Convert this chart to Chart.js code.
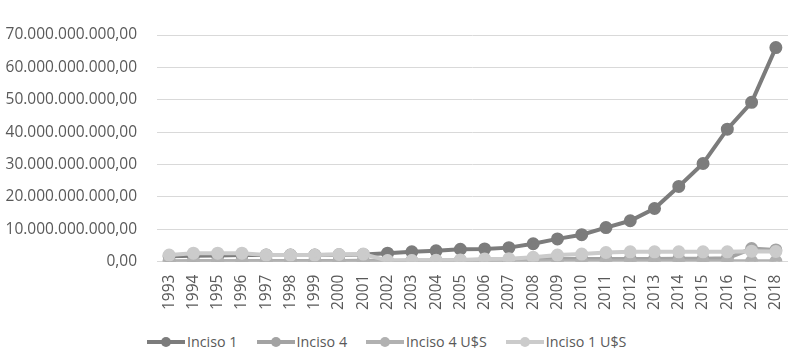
<!DOCTYPE html>
<html>
<head>
<meta charset="utf-8">
<script src="https://cdn.jsdelivr.net/npm/chart.js@4.4.1/dist/chart.umd.min.js"></script>
<style>
    body { margin: 0; background: #fff; font-family: 'Open Sans', sans-serif; }
    #wrap { position: relative; width: 802px; height: 315px; }
    #legend { position: absolute; top: 332px; left: 147px; display: flex; gap: 19px; font-size: 14.3px; color: #595959; }
    .item { display: flex; align-items: center; }
    .mark { position: relative; width: 38px; height: 4px; margin-right: 2px; }
    .mark i { position: absolute; left: 14px; top: -3px; width: 10px; height: 10px; border-radius: 50%; }
</style>
</head>
<body>
<div id="wrap"><canvas id="chart"></canvas></div>
<div id="legend"></div>
<script>
// Years on the category axis
const years = ['1993', '1994', '1995', '1996', '1997', '1998', '1999', '2000', '2001', '2002', '2003', '2004', '2005',
    '2006', '2007', '2008', '2009', '2010', '2011', '2012', '2013', '2014', '2015', '2016', '2017', '2018'];

// Values in thousands of millions (multiplied by 1e9 below)
const inciso1 = [1.6, 1.8, 1.9, 2.0, 2.0, 2.0, 2.0, 2.1, 2.2, 2.6, 3.0, 3.3, 3.8,
    3.9, 4.3, 5.5, 7.0, 8.3, 10.5, 12.6, 16.4, 23.2, 30.3, 40.9, 49.2, 66.1];
const inciso4 = [0.05, 0.08, 0.1, 0.12, 0.15, 0.17, 0.2, 0.2, 0.22, 0.25, 0.3, 0.35, 0.4,
    0.5, 0.55, 0.65, 0.75, 0.75, 0.8, 0.8, 0.8, 0.85, 0.85, 1.0, 4.0, 3.6];
const inciso4Usd = [0.05, 0.06, 0.07, 0.07, 0.08, 0.08, 0.08, 0.08, 0.08, 0.04, 0.04, 0.04, 0.05,
    0.05, 0.06, 0.07, 0.08, 0.09, 0.1, 0.1, 0.1, 0.1, 0.09, 0.09, 0.1, 0.1];
const inciso1Usd = [2.0, 2.6, 2.6, 2.6, 2.0, 2.0, 2.0, 2.2, 2.3, 0.3, 0.3, 0.4, 0.5,
    0.8, 0.9, 1.3, 2.0, 2.3, 2.8, 3.0, 3.0, 3.0, 3.0, 3.0, 3.2, 3.1];

const seriesNames = ['Inciso 1', 'Inciso 4', 'Inciso 4 U$S', 'Inciso 1 U$S'];
const seriesColors = ['#7c7c7c', '#a3a3a3', '#b1b1b1', '#cbcbcb'];
const seriesData = [inciso1, inciso4, inciso4Usd, inciso1Usd];

// 70.000.000.000,00 style
function fmt(v) {
    const whole = Math.round(v).toString().replace(/\B(?=(\d{3})+(?!\d))/g, '.');
    return whole + ',00';
}

// later series are painted over earlier ones, like the original
const datasets = seriesData.map((arr, i) => ({
    label: seriesNames[i],
    data: arr.map(v => v * 1e9),
    borderColor: seriesColors[i],
    backgroundColor: seriesColors[i],
    borderWidth: 4,
    pointRadius: 4.5,
    pointHoverRadius: 4.5,
    order: seriesData.length - i,
    tension: 0
}));

new Chart(document.getElementById('chart'), {
    type: 'line',
    data: { labels: years, datasets: datasets },
    options: {
        responsive: true,
        maintainAspectRatio: false,
        animation: false,
        layout: { padding: { top: 35, right: 14, left: 4, bottom: 0 } },
        scales: {
            y: {
                min: 0,
                max: 70e9,
                afterFit: axis => { axis.width = 153; }, // fixed so the plot starts at x=157
                ticks: { stepSize: 10e9, color: '#595959', font: { family: "'Open Sans', sans-serif", size: 15.5 }, padding: 20, callback: v => fmt(v) },
                grid: { color: '#d9d9d9', drawTicks: false },
                border: { display: false }
            },
            x: {
                offset: true,
                ticks: { color: '#595959', font: { family: "'Open Sans', sans-serif", size: 15.5 }, minRotation: 90, maxRotation: 90, padding: 5 },
                grid: { display: false },
                border: { display: false }
            }
        },
        plugins: {
            legend: { display: false },
            tooltip: { enabled: false }
        }
    }
});

// HTML legend: line with a dot in the middle
const legend = document.getElementById('legend');
seriesNames.forEach((name, i) => {
    const item = document.createElement('div');
    item.className = 'item';
    item.innerHTML = '<span class="mark" style="background:' + seriesColors[i] + '"><i style="background:' + seriesColors[i] + '"></i></span>' + name;
    legend.appendChild(item);
});
</script>
</body>
</html>
